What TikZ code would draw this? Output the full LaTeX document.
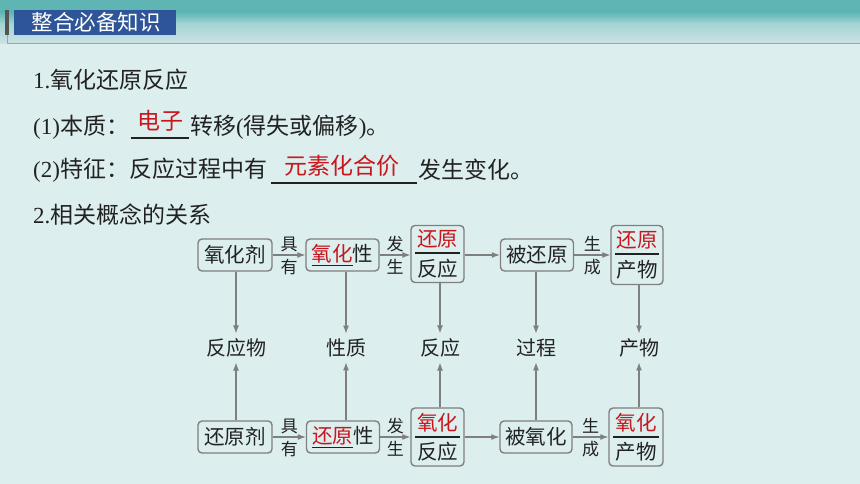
\documentclass[tikz,border=0pt]{standalone}
\usepackage{fontspec}
\setmainfont{Liberation Serif}
\newfontfamily\cjk{Noto Sans CJK SC}
\usetikzlibrary{arrows.meta}
\definecolor{bgcyan}{HTML}{DDEEEE}
\definecolor{bandteal}{HTML}{5EB5B4}
\definecolor{bandmid}{HTML}{A6D4D4}
\definecolor{bandlight}{HTML}{CDE3E7}
\definecolor{rulegray}{HTML}{9FA3AA}
\definecolor{bargray}{HTML}{555555}
\definecolor{hdblue}{HTML}{2E5597}
\definecolor{boxgray}{HTML}{7F7F7F}
\definecolor{ink}{HTML}{222222}
\definecolor{hl}{HTML}{C8161D}
\newcommand\fillin[1]{{\setbox0\hbox{\textcolor{hl}{#1}}\rlap{\rule[-4.5pt]{\wd0}{1.2pt}}\box0}}
\tikzset{txt/.style = {anchor = west, inner sep = 0, text = ink,
                       font = \cjk\fontsize{23}{27}\selectfont}}
\tikzset{hltxt/.style = {inner sep = 0, text = hl,
                         font = \cjk\fontsize{23}{27}\selectfont}}
\tikzset{blank/.style = {draw = ink, line width = 1.3}}
\tikzset{box/.style = {draw = boxgray, line width = 1.4, rounded corners = 4,
                       minimum width = 74, minimum height = 32, inner sep = 0,
                       text = ink, font = \cjk\fontsize{20.5}{24}\selectfont}}
\tikzset{tallbox/.style = {box, minimum width = 53, minimum height = 57}}
\tikzset{boxtxt/.style = {inner sep = 0, text = ink, font = \cjk\fontsize{20.5}{24}\selectfont}}
\tikzset{midtxt/.style = {inner sep = 5, text = ink, font = \cjk\fontsize{20}{24}\selectfont}}
\tikzset{side/.style = {inner sep = 3, text = ink, font = \cjk\fontsize{17}{19}\selectfont}}
\tikzset{arr/.style = {draw = boxgray, line width = 1.1, -{Latex[length = 8pt, width = 6pt]}}}
\tikzset{sep/.style = {draw = ink, line width = 1.2}}

\begin{document}
\begin{tikzpicture}[x=1pt, y=-1pt]
    % background and title bar
    \fill [bgcyan] (0, 0) rectangle (860, 484);
    \useasboundingbox (0, 0) rectangle (860, 484);
    \fill [bandteal] (0, 0) rectangle (860, 12);
    \shade [top color = bandteal, bottom color = bandmid] (0, 12) rectangle (860, 24);
    \shade [top color = bandmid, bottom color = bandlight] (0, 24) rectangle (860, 44);
    \draw [rulegray, line width = 1] (7, 35) -- (7, 44) -- (860, 44);
    \fill [bargray] (5, 10) rectangle (9, 35);
    \fill [hdblue] (14, 10) rectangle (176, 35);
    \node at (96, 22.5) [text = white, font = \cjk\fontsize{21.5}{24}\selectfont] (title) {整合必备知识};

    % text lines
    \node at (33, 80) [txt] (l1) {\textrm{1.}氧化还原反应};
    \node at (33, 127) [txt] (l2) {\textrm{(1)}本质：};
    \draw [blank] (131, 138) -- (189, 138);
    \node at (160, 121) [hltxt] (ans1) {电子};
    \node at (190, 127) [txt] (l2b) {转移\textrm{(}得失或偏移\textrm{)}。};
    \node at (33, 170) [txt] (l3) {\textrm{(2)}特征：反应过程中有};
    \draw [blank] (271, 183) -- (417, 183);
    \node at (342, 166) [hltxt] (ans2) {元素化合价};
    \node at (418, 170) [txt] (l3b) {发生变化。};
    \node at (33, 215) [txt] (l4) {\textrm{2.}相关概念的关系};

    % oxidant row
    \node at (235, 255) [box] (ox) {氧化剂};
    \node at (342.5, 255) [box, minimum width = 73] (oxp) {\fillin{氧化}性};
    \node at (437.5, 254) [tallbox] (rxn1) {};
    \node at ([yshift = 15] rxn1.center) [boxtxt, text = hl] (rxn1u) {还原};
    \node at ([yshift = -15] rxn1.center) [boxtxt] (rxn1d) {反应};
    \draw [sep] ([xshift = 5, yshift = 1] rxn1.west) -- ([xshift = -5, yshift = 1] rxn1.east);
    \node at (537, 255) [box, minimum width = 73] (red1) {被还原};
    \node at (637, 255) [tallbox, minimum width = 52, minimum height = 59] (prod1) {};
    \node at ([yshift = 15] prod1.center) [boxtxt, text = hl] (prod1u) {还原};
    \node at ([yshift = -15] prod1.center) [boxtxt] (prod1d) {产物};
    \draw [sep] ([xshift = 5, yshift = 1] prod1.west) -- ([xshift = -5, yshift = 1] prod1.east);

    \draw [arr] (ox) -- (oxp) node [pos = 0.5, above, side] {具} node [pos = 0.5, below = 1, side] {有};
    \draw [arr] (oxp) -- (oxp -| rxn1.west) node [pos = 0.5, above, side] {发} node [pos = 0.5, below = 1, side] {生};
    \draw [arr] (ox -| rxn1.east) -- (red1);
    \draw [arr] (red1) -- (red1 -| prod1.west) node [pos = 0.5, above, side] {生} node [pos = 0.5, below = 1, side] {成};

    % middle labels
    \node at (236, 348) [midtxt] (m1) {反应物};
    \node at (346, 348) [midtxt] (m2) {性质};
    \node at (440, 348) [midtxt] (m3) {反应};
    \node at (536, 348) [midtxt] (m4) {过程};
    \node at (639, 348) [midtxt] (m5) {产物};

    % reductant row
    \node at (235, 437) [box] (rd) {还原剂};
    \node at (343, 437) [box, minimum width = 73] (rdp) {\fillin{还原}性};
    \node at (437.5, 437) [tallbox, minimum height = 58] (rxn2) {};
    \node at ([yshift = 14] rxn2.center) [boxtxt, text = hl] (rxn2u) {氧化};
    \node at ([yshift = -15] rxn2.center) [boxtxt] (rxn2d) {反应};
    \draw [sep] ([xshift = 5] rxn2.west) -- ([xshift = -5] rxn2.east);
    \node at (536, 437) [box, minimum width = 72] (oxd) {被氧化};
    \node at (636, 437) [tallbox, minimum width = 54, minimum height = 58] (prod2) {};
    \node at ([yshift = 14] prod2.center) [boxtxt, text = hl] (prod2u) {氧化};
    \node at ([yshift = -15] prod2.center) [boxtxt] (prod2d) {产物};
    \draw [sep] ([xshift = 5] prod2.west) -- ([xshift = -5] prod2.east);

    \draw [arr] (rd) -- (rdp) node [pos = 0.5, above, side] {具} node [pos = 0.5, below = 1, side] {有};
    \draw [arr] (rdp) -- (rdp -| rxn2.west) node [pos = 0.5, above, side] {发} node [pos = 0.5, below = 1, side] {生};
    \draw [arr] (rd -| rxn2.east) -- (oxd);
    \draw [arr] (oxd) -- (oxd -| prod2.west) node [pos = 0.5, above, side] {生} node [pos = 0.5, below = 1, side] {成};

    % vertical arrows
    \draw [arr] (ox.south -| m1) -- (m1.north);
    \draw [arr] (oxp.south -| m2) -- (m2.north);
    \draw [arr] (rxn1.south -| m3) -- (m3.north);
    \draw [arr] (red1.south -| m4) -- (m4.north);
    \draw [arr] (prod1.south -| m5) -- (m5.north);
    \draw [arr] (rd.north -| m1) -- (m1.south);
    \draw [arr] (rdp.north -| m2) -- (m2.south);
    \draw [arr] (rxn2.north -| m3) -- (m3.south);
    \draw [arr] (oxd.north -| m4) -- (m4.south);
    \draw [arr] (prod2.north -| m5) -- (m5.south);
\end{tikzpicture}
\end{document}
